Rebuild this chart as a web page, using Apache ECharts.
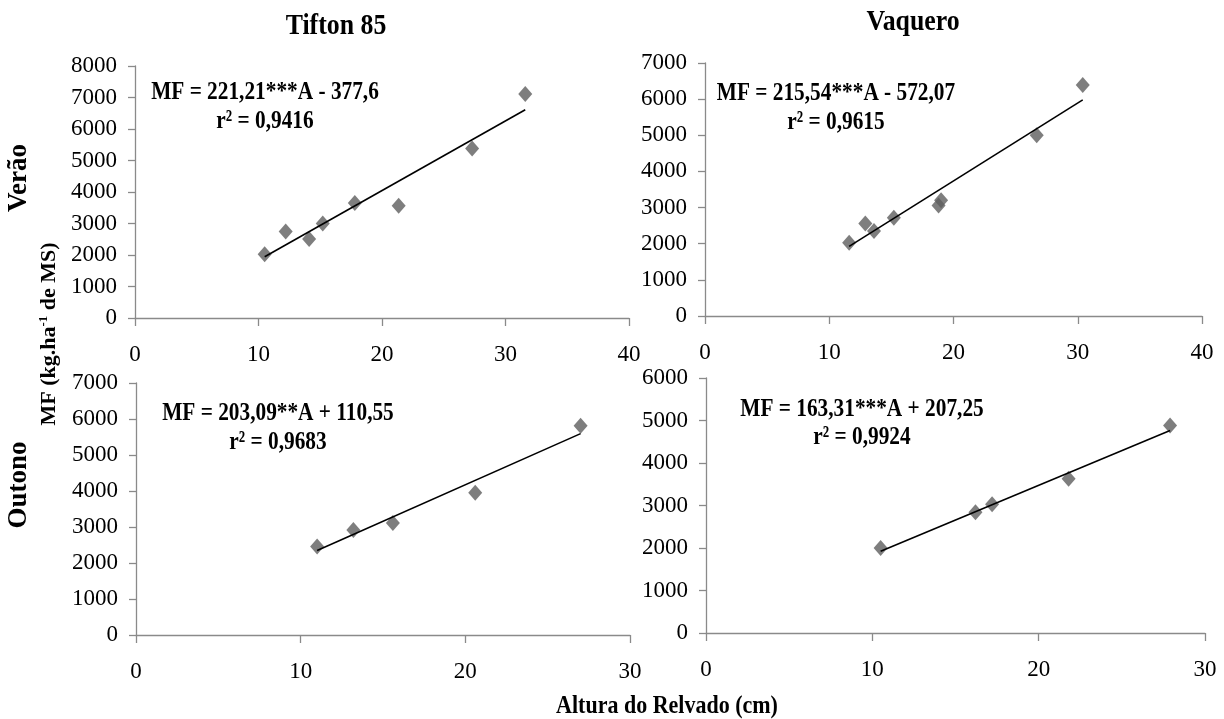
<!DOCTYPE html>
<html>
<head>
<meta charset="utf-8">
<script src="https://cdn.jsdelivr.net/npm/echarts@6/dist/echarts.min.js"></script>
<style>
html,body{margin:0;padding:0;background:#fff;}
#c{width:1224px;height:719px;}
</style>
</head>
<body>
<div id="c"></div>
<script>
// ---- data ----
const panelTitles = ['Tifton 85', 'Vaquero'];
const seasonLabels = ['Verão', 'Outono'];
const xAxisTitle = 'Altura do Relvado (cm)';

const tiftonVeraoX = [10.5, 12.2, 14.1, 15.2, 17.8, 21.35, 27.3, 31.6];
const tiftonVeraoY = [2020, 2745, 2510, 3000, 3650, 3560, 5380, 7110];
const vaqueroVeraoX = [11.6, 12.9, 13.6, 15.2, 18.8, 19.0, 26.7, 30.4];
const vaqueroVeraoY = [2030, 2560, 2350, 2720, 3060, 3200, 5000, 6390];
const tiftonOutonoX = [11.0, 13.2, 15.6, 20.6, 27.0];
const tiftonOutonoY = [2460, 2920, 3110, 3950, 5810];
const vaqueroOutonoX = [10.5, 16.2, 17.2, 21.8, 27.9];
const vaqueroOutonoY = [2000, 2840, 3030, 3630, 4880];

const slopes = [221.21, 215.54, 203.09, 163.31];
const intercepts = [-377.6, -572.07, 110.55, 207.25];
const equations = [
  'MF = 221,21***A - 377,6',
  'MF = 215,54***A - 572,07',
  'MF = 203,09**A + 110,55',
  'MF = 163,31***A + 207,25'
];
const r2Labels = ['r² = 0,9416', 'r² = 0,9615', 'r² = 0,9683', 'r² = 0,9924'];

const xMax = [40, 40, 30, 30];
const yMax = [8000, 7000, 7000, 6000];

// ---- layout ----
const FONT = 'Liberation Serif';
const grids = [
  {left: 135, top: 66, width: 494, height: 252},
  {left: 705, top: 63, width: 497, height: 253},
  {left: 136, top: 383, width: 494, height: 252},
  {left: 706, top: 378, width: 499, height: 255}
];
const eqPos = [
  [265, 92, 121],
  [836, 93, 122],
  [278, 413, 442],
  [862, 409, 437]
];

const xs = [tiftonVeraoX, vaqueroVeraoX, tiftonOutonoX, vaqueroOutonoX];
const ys = [tiftonVeraoY, vaqueroVeraoY, tiftonOutonoY, vaqueroOutonoY];

const axisColor = '#8a8a8a';
const xAxes = [], yAxes = [], series = [];
for (let i = 0; i < 4; i++) {
  xAxes.push({
    type: 'value', gridIndex: i, min: 0, max: xMax[i], interval: 10,
    splitLine: {show: false},
    axisLine: {show: true, lineStyle: {color: axisColor, width: 1.3}},
    axisTick: {show: true, length: 8, lineStyle: {color: axisColor, width: 1.3}},
    axisLabel: {color: '#000', fontFamily: FONT, fontSize: 23, margin: 25, formatter: v => String(v)}
  });
  yAxes.push({
    type: 'value', gridIndex: i, min: 0, max: yMax[i], interval: 1000,
    splitLine: {show: false},
    axisLine: {show: true, lineStyle: {color: axisColor, width: 1.3}},
    axisTick: {show: true, length: 7, lineStyle: {color: axisColor, width: 1.3}},
    axisLabel: {color: '#000', fontFamily: FONT, fontSize: 23, margin: 18, formatter: v => String(v)}
  });
  const pts = xs[i].map((x, k) => [x, ys[i][k]]);
  series.push({
    type: 'scatter', xAxisIndex: i, yAxisIndex: i, data: pts,
    symbol: 'diamond', symbolSize: [14, 16],
    itemStyle: {color: '#5e5e5e'}, z: 3
  });
  const x0 = Math.min(...xs[i]), x1 = Math.max(...xs[i]);
  series.push({
    type: 'line', xAxisIndex: i, yAxisIndex: i,
    data: [[x0, slopes[i] * x0 + intercepts[i]], [x1, slopes[i] * x1 + intercepts[i]]],
    showSymbol: false, symbol: 'none',
    lineStyle: {color: '#000', width: 1.6}, z: 4
  });
}

const graphics = [];
function txt(text, x, y, size, rotation, sx) {
  graphics.push({
    type: 'text', x: x, y: y, rotation: rotation || 0,
    scaleX: sx || 1,
    style: {
      text: text, fontFamily: FONT, fontWeight: 'bold', fontSize: size,
      fill: '#000', textAlign: 'center', textVerticalAlign: 'middle'
    }
  });
}
for (let i = 0; i < 4; i++) {
  txt(equations[i], eqPos[i][0], eqPos[i][1], 26, 0, 0.82);
  txt(r2Labels[i], eqPos[i][0], eqPos[i][2], 26, 0, 0.82);
}
txt(panelTitles[0], 336, 26, 30, 0, 0.86);
txt(panelTitles[1], 913, 22, 30, 0, 0.86);
txt(seasonLabels[0], 19, 178, 27, Math.PI / 2);
txt(seasonLabels[1], 19, 485, 27, Math.PI / 2);
txt(xAxisTitle, 667, 707, 25, 0, 0.88);
graphics.push({
  type: 'text', x: 49, y: 334, rotation: Math.PI / 2,
  style: {
    text: '{a|MF (kg.ha}{s|-1}{a| de MS)}',
    textAlign: 'center', textVerticalAlign: 'middle', fill: '#000',
    rich: {
      a: {fontFamily: FONT, fontWeight: 'bold', fontSize: 22, lineHeight: 24},
      s: {fontFamily: FONT, fontWeight: 'bold', fontSize: 13, lineHeight: 24, verticalAlign: 'top', padding: [0, 0, 8, 0]}
    }
  }
});

const chart = echarts.init(document.getElementById('c'), null, {renderer: 'canvas'});
chart.setOption({
  backgroundColor: '#fff',
  animation: false,
  grid: grids,
  xAxis: xAxes,
  yAxis: yAxes,
  series: series,
  graphic: graphics
});
</script>
</body>
</html>
